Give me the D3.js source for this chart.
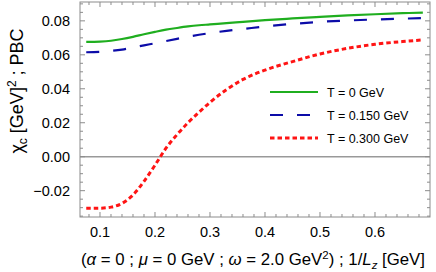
<!DOCTYPE html>
<html>
<head>
<meta charset="utf-8">
<script src="https://cdn.jsdelivr.net/npm/d3@7"></script>
<style>
  body { margin: 0; background: #fff; }
  svg { font-family: "Liberation Sans", Arial, sans-serif; }
</style>
</head>
<body>
<script>
// 1/Lz values (GeV) shared by the three curves
const invL = [0.075, 0.1, 0.12, 0.14, 0.16, 0.18, 0.2, 0.22, 0.24, 0.26, 0.28, 0.3,
  0.33, 0.36, 0.4, 0.45, 0.5, 0.55, 0.6, 0.65, 0.687];

const chiT0 = [0.0676, 0.0678, 0.0683, 0.0693, 0.0706, 0.0721, 0.0735, 0.0748, 0.0758, 0.0767, 0.0774, 0.0779,
  0.0787, 0.0794, 0.0804, 0.0814, 0.0823, 0.0832, 0.0839, 0.0845, 0.0849];
const chiT150 = [0.0615, 0.0618, 0.0623, 0.0631, 0.0643, 0.0656, 0.0668, 0.0681, 0.0694, 0.0707, 0.0718, 0.0728,
  0.0741, 0.0752, 0.0767, 0.0782, 0.0794, 0.0802, 0.0808, 0.0813, 0.0816];
const chiT300 = [-0.0304, -0.0303, -0.0297, -0.0275, -0.0225, -0.0145, -0.0050, 0.0050, 0.0130, 0.0200, 0.0262, 0.0320,
  0.0395, 0.0455, 0.0510, 0.0560, 0.0605, 0.0638, 0.0662, 0.0678, 0.0688];

const seriesNames = ["T = 0 GeV", "T = 0.150 GeV", "T = 0.300 GeV"];
const xTicks = [0.1, 0.2, 0.3, 0.4, 0.5, 0.6];
const yTicks = [-0.02, 0.00, 0.02, 0.04, 0.06, 0.08];

var W = 436, H = 272;
var box = {left: 80, right: 430, top: 2, bottom: 217};

var x = d3.scaleLinear().domain([0.06364, 0.7]).range([box.left, box.right]);
var y = d3.scaleLinear().domain([-0.0355, 0.0911]).range([box.bottom, box.top]);

var svg = d3.select("body").append("svg")
    .attr("width", W)
    .attr("height", H);

var frameColor = "#8c8c8c";

// zero line
svg.append("line")
    .attr("x1", box.left).attr("x2", box.right)
    .attr("y1", y(0)).attr("y2", y(0))
    .attr("stroke", "#999").attr("stroke-width", 1.5);

var styles = [
  {color: "#1fae1f", width: 2.2, dash: null},
  {color: "#0c0ca8", width: 2.2, dash: "13,14"},
  {color: "#ff1414", width: 3, dash: "4.5,3"}
];
var allSeries = [chiT0, chiT150, chiT300];

var line = d3.line()
    .x((d, i) => x(invL[i]))
    .y(d => y(d))
    .curve(d3.curveMonotoneX);

allSeries.forEach((s, k) => {
  svg.append("path")
      .datum(s)
      .attr("fill", "none")
      .attr("stroke", styles[k].color)
      .attr("stroke-width", styles[k].width)
      .attr("stroke-dasharray", styles[k].dash)
      .attr("d", line);
});

// frame with inward ticks on every side
var minorX = d3.range(4, 35).map(i => i * 0.02).filter(v => x(v) > box.left && x(v) < box.right);
var minorY = d3.range(-7, 19).map(i => i * 0.005).filter(v => y(v) > box.top && y(v) < box.bottom);
var isMajorX = v => Math.abs(v * 10 - Math.round(v * 10)) < 1e-6;
var isMajorY = v => Math.abs(v * 50 - Math.round(v * 50)) < 1e-6;

var ticks = svg.append("g").attr("stroke", frameColor).attr("stroke-width", 1);
minorX.forEach(v => {
  var len = isMajorX(v) ? 5 : 3;
  ticks.append("line").attr("x1", x(v)).attr("x2", x(v)).attr("y1", box.bottom).attr("y2", box.bottom - len);
  ticks.append("line").attr("x1", x(v)).attr("x2", x(v)).attr("y1", box.top).attr("y2", box.top + len);
});
minorY.forEach(v => {
  var len = isMajorY(v) ? 5 : 3;
  ticks.append("line").attr("y1", y(v)).attr("y2", y(v)).attr("x1", box.left).attr("x2", box.left + len);
  ticks.append("line").attr("y1", y(v)).attr("y2", y(v)).attr("x1", box.right).attr("x2", box.right - len);
});

svg.append("rect")
    .attr("x", box.left).attr("y", box.top)
    .attr("width", box.right - box.left).attr("height", box.bottom - box.top)
    .attr("fill", "none").attr("stroke", frameColor).attr("stroke-width", 1);

// tick labels
svg.selectAll(".xl").data(xTicks).enter().append("text")
    .attr("x", d => x(d)).attr("y", 237)
    .attr("text-anchor", "middle").attr("font-size", 14.5)
    .text(d => d3.format(".1f")(d));

svg.selectAll(".yl").data(yTicks).enter().append("text")
    .attr("x", 70).attr("y", d => y(d) + 5)
    .attr("text-anchor", "end").attr("font-size", 14.5)
    .text(d => d3.format(".2f")(d).replace("-", "\u2212"));

// axis titles
var xt = svg.append("text")
    .attr("x", 253).attr("y", 265)
    .attr("text-anchor", "middle").attr("font-size", 16.8);
xt.append("tspan").text("(");
xt.append("tspan").attr("font-style", "italic").text("\u03b1");
xt.append("tspan").text(" = 0 ; ");
xt.append("tspan").attr("font-style", "italic").text("\u03bc");
xt.append("tspan").text(" = 0 GeV ; ");
xt.append("tspan").attr("font-style", "italic").text("\u03c9");
xt.append("tspan").text(" = 2.0 GeV");
xt.append("tspan").attr("font-size", 11.5).attr("dy", -6).text("2");
xt.append("tspan").attr("dy", 6).text(") ; 1/");
xt.append("tspan").attr("font-style", "italic").text("L");
xt.append("tspan").attr("font-style", "italic").attr("font-size", 11.5).attr("dy", 3.5).text("z");
xt.append("tspan").attr("dy", -3.5).text(" [GeV]");

var yt = svg.append("text")
    .attr("transform", "translate(23,91) rotate(-90)")
    .attr("text-anchor", "middle").attr("font-size", 18);
yt.append("tspan").text("\u03c7");
yt.append("tspan").attr("font-size", 12).attr("dy", 4).text("c");
yt.append("tspan").attr("dy", -4).text(" [GeV]");
yt.append("tspan").attr("font-size", 12).attr("dy", -7).text("2");
yt.append("tspan").attr("dy", 7).text(" ; PBC");

// legend
var legend = svg.append("g");
seriesNames.forEach((name, k) => {
  var ly = 92 + k * 23;
  legend.append("line")
      .attr("x1", 270).attr("x2", 318).attr("y1", ly).attr("y2", ly)
      .attr("stroke", styles[k].color)
      .attr("stroke-width", styles[k].width)
      .attr("stroke-dasharray", styles[k].dash);
  legend.append("text")
      .attr("x", 327).attr("y", ly + 4.5)
      .attr("font-size", 12.5)
      .text(name);
});
</script>
</body>
</html>
